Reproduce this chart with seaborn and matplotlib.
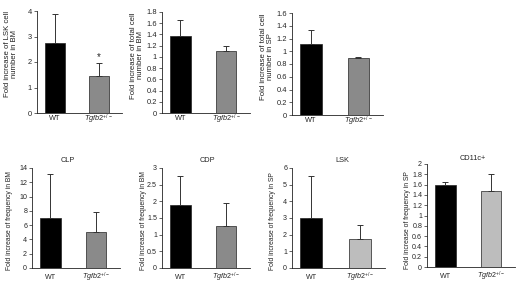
import matplotlib
matplotlib.use("Agg")
import matplotlib.pyplot as plt
import seaborn as sns
import pandas as pd
from matplotlib.ticker import FuncFormatter, FixedLocator

sns.set_style("white")
plt.rcParams['font.family'] = ['Liberation Sans', 'DejaVu Sans']
plt.rcParams['mathtext.fontset'] = 'custom'
plt.rcParams['mathtext.it'] = 'Liberation Sans:italic'
plt.rcParams['mathtext.rm'] = 'Liberation Sans'

categories = ["WT", r"$\mathit{Tgfb2}^{+/-}$"]

p1_vals = [2.75, 1.45]; p1_err = [1.15, 0.50]
p2_vals = [1.38, 1.10]; p2_err = [0.28, 0.10]
p3_vals = [1.12, 0.89]; p3_err = [0.22, 0.015]
p4_vals = [7.0, 5.0];   p4_err = [6.1, 2.9]
p5_vals = [1.90, 1.25]; p5_err = [0.85, 0.70]
p6_vals = [3.0, 1.75];  p6_err = [2.55, 0.85]
p7_vals = [1.60, 1.48]; p7_err = [0.05, 0.32]

ylabels = ["Fold increase of LSK cell\nnumber in BM",
           "Fold increase of total cell\nnumber in BM",
           "Fold increase of total cell\nnumber in SP",
           "Fold increase of frequency in BM",
           "Fold increase of frequency in BM",
           "Fold increase of frequency in SP",
           "Fold increase of frequency in SP"]
titles = ["", "", "", "CLP", "CDP", "LSK", "CD11c+"]
ymax = [4, 1.8, 1.6, 14, 3, 6, 2]
ystep = [1, 0.2, 0.2, 2, 0.5, 1, 0.2]

vals = [p1_vals, p2_vals, p3_vals, p4_vals, p5_vals, p6_vals, p7_vals]
errs = [p1_err, p2_err, p3_err, p4_err, p5_err, p6_err, p7_err]
dark_gray = "#8a8a8a"
light_gray = "#bdbdbd"
colors = [["#000000", dark_gray]] * 5 + [["#000000", light_gray]] * 2

# axes boxes in pixels: left, right, top, bottom
W, H = 520, 283
boxes = [(37, 122, 11, 113), (162, 250, 12, 113), (292, 383, 13, 115),
         (32, 120, 168, 268), (162, 250, 168, 268), (292, 385, 168, 268),
         (427, 515, 164, 267)]
title_x = [0.5, 0.5, 0.5, 0.41, 0.52, 0.54, 0.52]
title_dy = [0, 0, 0, 7, 7, 7, 5]   # px above the top of the axes to title centre
ylab_dx = [-19, -18, -18, -19, -15, -16, -16]   # px from left spine to label bottom edge
ylab_y = [0.58, 0.57, 0.57, 0.47, 0.47, 0.47, 0.46]

fig = plt.figure(figsize=(W / 100, H / 100), dpi=100)
for i in range(7):
    top = i < 3
    l, r, t, b = boxes[i]
    ax = fig.add_axes([l / W, 1 - b / H, (r - l) / W, (b - t) / H])
    df = pd.DataFrame({"group": categories, "value": vals[i]})
    sns.barplot(data=df, x="group", y="value", hue="group",
                palette=colors[i], errorbar=None, width=0.45,
                edgecolor="#222222", linewidth=0.5, legend=False, ax=ax)
    ax.errorbar([0, 1], vals[i], yerr=[[0, 0], errs[i]], fmt="none",
                ecolor="#333333", elinewidth=0.7, capsize=2.2, capthick=0.7)
    ax.set_xlim(-0.40, 1.52)
    ax.set_ylim(0, ymax[i])
    n = int(round(ymax[i] / ystep[i]))
    ax.set_yticks([round(k * ystep[i], 4) for k in range(n + 1)])
    ax.yaxis.set_major_formatter(FuncFormatter(lambda v, p: f"{v:g}"))
    ax.set_xticks([0, 1])
    ax.set_xticklabels(categories)
    ax.xaxis.set_minor_locator(FixedLocator([0.5]))
    ax.tick_params(axis="x", which="major", length=0,
                   labelsize=5.3 if top else 5.1, pad=4.3 if top else 7.0)
    for lab in ax.get_xticklabels():
        lab.set_va("center")
    ax.tick_params(axis="x", which="minor", length=2, width=0.5, direction="out")
    ax.tick_params(axis="y", length=2, width=0.5, direction="out",
                   labelsize=5.4 if top else 5.1, pad=1.5, left=True)
    ax.set_xlabel("")
    ax.set_ylabel(ylabels[i], fontsize=5.6 if top else 4.85,
                  color="#222222", linespacing=1.0)
    ax.yaxis.set_label_coords(ylab_dx[i] / (r - l), ylab_y[i])
    for s in ["top", "right"]:
        ax.spines[s].set_visible(False)
    for s in ["left", "bottom"]:
        ax.spines[s].set_linewidth(0.6)
        ax.spines[s].set_color("#222222")
    if titles[i]:
        ax.text(title_x[i], 1 + title_dy[i] / (b - t), titles[i],
                transform=ax.transAxes, ha="center", va="center", fontsize=5.3)
    if i == 0:
        ax.text(1, vals[0][1] + errs[0][1] + 0.05, "*", ha="center",
                va="bottom", fontsize=7)

fig.savefig("out.png", dpi=100)
